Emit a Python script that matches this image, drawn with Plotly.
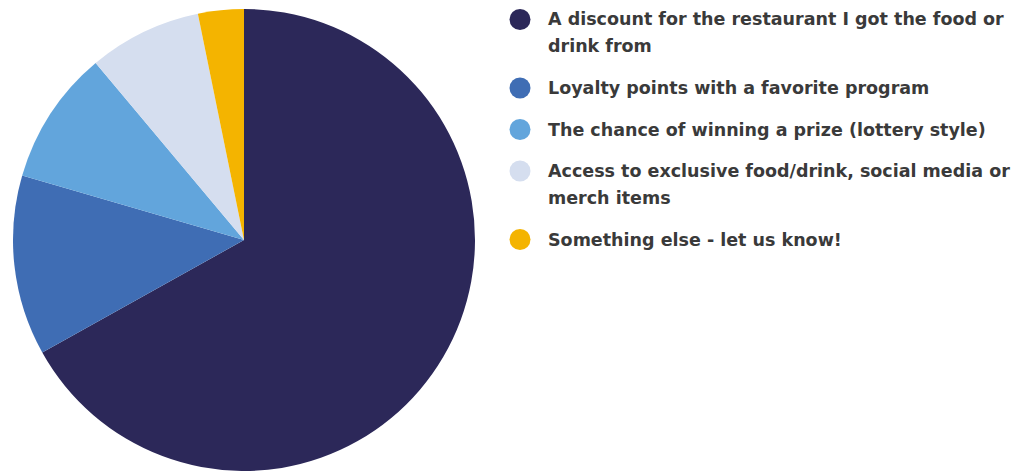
import plotly.graph_objects as go

# Survey answers and their share of responses (%)
categories = [
    "A discount for the restaurant I got the food or<br>drink from",
    "Loyalty points with a favorite program",
    "The chance of winning a prize (lottery style)",
    "Access to exclusive food/drink, social media or<br>merch items",
    "Something else - let us know!",
]
shares = [66.9, 12.6, 9.4, 7.9, 3.2]
colors = ["#2c2859", "#3f6db4", "#62a5dc", "#d5deef", "#f4b400"]

W, H = 1026, 471

fig = go.Figure()
fig.add_trace(go.Pie(
    labels=[c.replace("<br>", " ") for c in categories],
    values=shares,
    marker=dict(colors=colors, line=dict(width=0)),
    sort=False,
    direction="clockwise",
    rotation=0,
    textinfo="none",
    hoverinfo="label+percent",
    showlegend=False,
    domain=dict(x=[13 / W, 475 / W], y=[0, 462 / H]),
))

# Custom legend: round swatches with wrapped labels
LEG_X, TEXT_X = 520, 546
TOP, LINE_STEP, ITEM_GAP = 19.5, 27, 14.5
shapes, annotations = [], []
y = TOP
for label, col in zip(categories, colors):
    lines = label.split("<br>")
    shapes.append(dict(
        type="circle", xref="paper", yref="paper",
        xsizemode="pixel", ysizemode="pixel",
        xanchor=LEG_X / W, yanchor=1 - y / H,
        x0=-10.5, x1=10.5, y0=-10.5, y1=10.5,
        fillcolor=col, line=dict(width=0),
    ))
    for i, line in enumerate(lines):
        annotations.append(dict(
            text=line, xref="paper", yref="paper",
            x=TEXT_X / W, y=1 - (y + i * LINE_STEP) / H,
            xanchor="left", yanchor="middle", showarrow=False,
            font=dict(family="DejaVu Sans", size=17.5, weight="bold",
                      color="#3a3a3a"),
        ))
    y += len(lines) * LINE_STEP + ITEM_GAP

fig.update_layout(
    width=W, height=H,
    margin=dict(l=0, r=0, t=0, b=0),
    paper_bgcolor="white", plot_bgcolor="white",
    shapes=shapes, annotations=annotations,
)

fig.write_html("out.html")
